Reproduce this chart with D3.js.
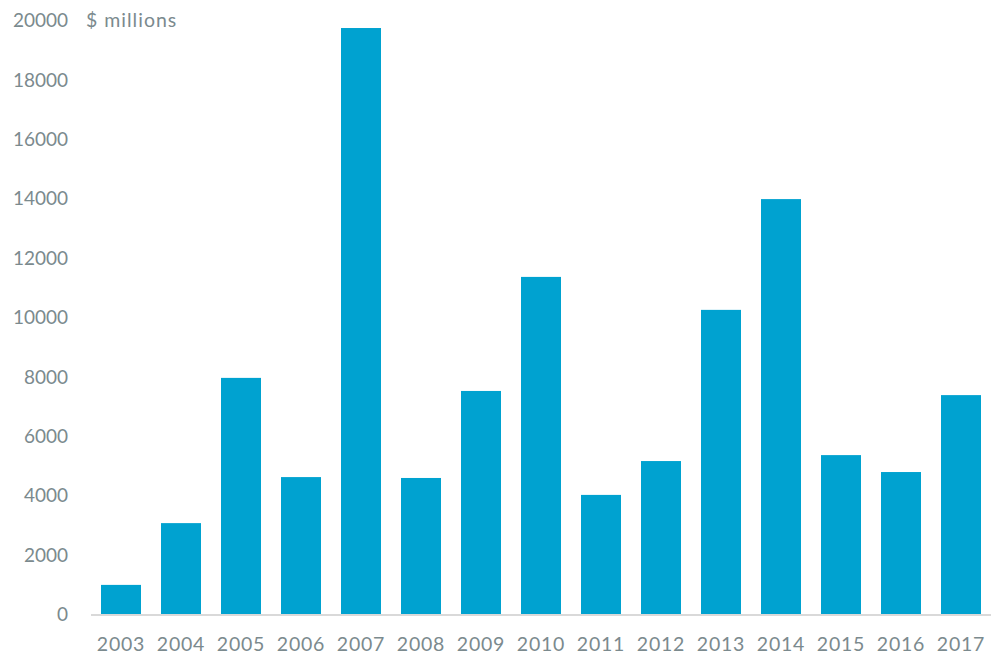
<!DOCTYPE html>
<html>
<head>
<meta charset="utf-8">
<script src="https://cdn.jsdelivr.net/npm/d3@7"></script>
<style>
  html, body { margin: 0; padding: 0; background: #fff; }
  svg { display: block; }
  text { font-family: Lato, "Open Sans", sans-serif; fill: #7b8a8e; }
</style>
</head>
<body>
<svg id="chart" width="1007" height="668"></svg>
<script>
const years = ["2003","2004","2005","2006","2007","2008","2009","2010","2011","2012","2013","2014","2015","2016","2017"];
const values = [980, 3060, 7950, 4610, 19730, 4580, 7510, 11350, 4010, 5150, 10240, 13970, 5350, 4780, 7370];
const yTicks = [0, 2000, 4000, 6000, 8000, 10000, 12000, 14000, 16000, 18000, 20000];
const unitLabel = "$ millions";

const svg = d3.select("#chart");
const x = d3.scaleBand().domain(years).range([91, 991]).paddingInner(1/3).paddingOuter(1/6);
const y = d3.scaleLinear().domain([0, 20000]).range([614, 20]);

svg.append("g").selectAll("rect").data(values).join("rect")
  .attr("x", (d, i) => x(years[i]))
  .attr("width", x.bandwidth())
  .attr("y", d => y(d))
  .attr("height", d => y(0) - y(d))
  .attr("fill", "#00a2d0");

// baseline
svg.append("line")
  .attr("x1", 91).attr("x2", 991)
  .attr("y1", y(0) + 1).attr("y2", y(0) + 1)
  .attr("stroke", "#d9d9d9").attr("stroke-width", 2);

// y axis labels
const yAxis = d3.axisLeft(y).tickValues(yTicks).tickSize(0).tickPadding(0).tickFormat(d3.format("d"));
const yg = svg.append("g").attr("transform", "translate(68,0)").call(yAxis);
yg.select(".domain").remove();
yg.selectAll("text").style("font-size", "19px").attr("fill", "#7b8a8e").attr("dy", "0.35em");

// x axis labels
const xAxis = d3.axisBottom(x).tickSize(0).tickPadding(0);
const xg = svg.append("g").attr("transform", "translate(0,637)").call(xAxis);
xg.select(".domain").remove();
xg.selectAll("text").style("font-size", "19.5px").style("letter-spacing", "0.8px")
  .attr("fill", "#7b8a8e").attr("dy", "0.72em");

svg.append("text")
  .attr("x", 86).attr("y", y(20000))
  .attr("dy", "0.35em")
  .style("font-size", "19.5px")
  .style("letter-spacing", "1px")
  .text(unitLabel);
</script>
</body>
</html>
